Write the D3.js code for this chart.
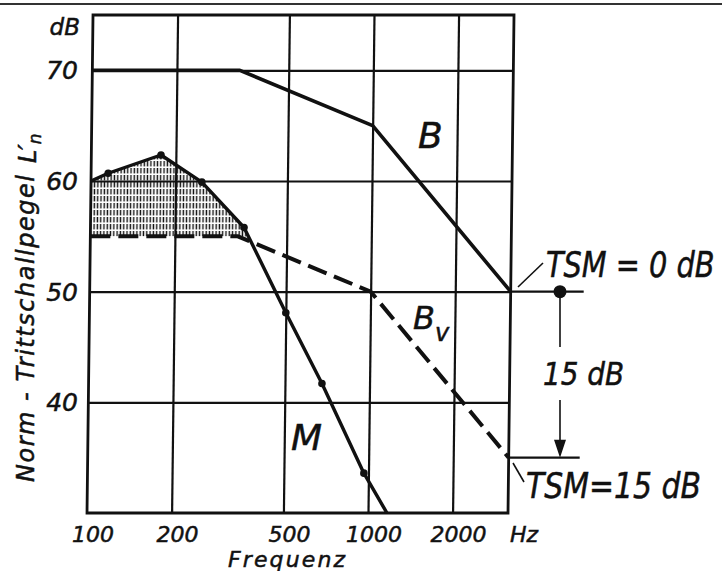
<!DOCTYPE html>
<html><head><meta charset="utf-8">
<script src="https://cdn.jsdelivr.net/npm/d3@7"></script>
<style>
html,body{margin:0;padding:0;background:#fff;}
svg{display:block;}
text{font-family:"DejaVu Sans",sans-serif;font-style:italic;fill:#111;stroke:#111;stroke-width:0.5;}
</style></head>
<body>
<svg id="chart" width="722" height="571"></svg>
<script>
// ---- data ----
const freqTicks = [100, 200, 500, 1000, 2000];
const freqTickLabels = ["100", "200", "500", "1000", "2000"];
const levelTicks = [40, 50, 60, 70];
const levelTickLabels = ["40", "50", "60", "70"];
const freqDomain = [100, 3150];
const levelDomain = [30, 75];
// reference curve B
const curveBFreq = [100, 335, 1000, 3150];
const curveBLevel = [70, 70, 65, 50];
// shifted reference curve Bv (B - 15 dB)
const curveBvFreq = [100, 335, 1000, 3150];
const curveBvLevel = [55, 55, 50, 35];
// measured curve M
const curveMFreq = [100, 115, 177, 248, 352, 500, 677, 963, 1168];
const curveMLevel = [60, 60.7, 62.35, 59.9, 55.8, 48.1, 41.7, 33.6, 30];
const curveMDots = [115, 177, 248, 352, 500, 677, 963];

const svg = d3.select("#chart");
const W = 722, H = 571;
const x = d3.scaleLog().domain(freqDomain).range([90, 511]);
const y = d3.scaleLinear().domain(levelDomain).range([513, 15]);
const ink = "#111";

const zip = (fs, ls) => fs.map((f, i) => ({f, L: ls[i]}));
const B = zip(curveBFreq, curveBLevel);
const Bv = zip(curveBvFreq, curveBvLevel);
const M = zip(curveMFreq, curveMLevel);
const line = d3.line().x(d => x(d.f)).y(d => y(d.L));

// top border line
svg.append("line").attr("x1", 0).attr("x2", W).attr("y1", 4).attr("y2", 4)
  .attr("stroke", "#333").attr("stroke-width", 2);

const defs = svg.append("defs");
const pat = defs.append("pattern").attr("id", "hatch").attr("patternUnits", "userSpaceOnUse")
  .attr("width", 3.3).attr("height", 7);
pat.append("line").attr("x1", 1.2).attr("x2", 1.2).attr("y1", 0).attr("y2", 5.5)
  .attr("stroke", ink).attr("stroke-width", 1.4);

// plot group slightly skewed like the scanned original
const cy = 265;
const g = svg.append("g")
  .attr("transform", `translate(0,${cy}) skewX(-0.69) translate(0,${-cy})`);

// clip: region above Bv
const clip = defs.append("clipPath").attr("id", "aboveBv");
clip.append("path").attr("d",
  d3.area().x(d => x(d.f)).y0(y(levelDomain[1])).y1(d => y(d.L))(Bv));

// hatched area: under M and above Bv
g.append("path")
  .attr("d", d3.area().x(d => x(d.f)).y0(y(levelDomain[0])).y1(d => y(d.L))(M))
  .attr("fill", "url(#hatch)").attr("clip-path", "url(#aboveBv)");

// grid
const xAxis = d3.axisBottom(x).tickValues(freqTicks.slice(1)).tickSize(-(y(levelDomain[0]) - y(levelDomain[1]))).tickFormat("");
const gx = g.append("g").attr("transform", `translate(0,${y(levelDomain[0])})`).call(xAxis);
const yAxis = d3.axisLeft(y).tickValues(levelTicks).tickSize(-(x(freqDomain[1]) - x(freqDomain[0]))).tickFormat("");
const gy = g.append("g").attr("transform", `translate(${x(freqDomain[0])},0)`).call(yAxis);
[gx, gy].forEach(a => {
  a.select(".domain").remove();
  a.selectAll(".tick line").attr("stroke", ink).attr("stroke-width", 2.2);
});

// frame
g.append("rect").attr("x", x(freqDomain[0])).attr("y", y(levelDomain[1]))
  .attr("width", x(freqDomain[1]) - x(freqDomain[0]))
  .attr("height", y(levelDomain[0]) - y(levelDomain[1]))
  .attr("fill", "none").attr("stroke", ink).attr("stroke-width", 2.8);

// extension lines to the right
g.append("line").attr("x1", x(freqDomain[1])).attr("x2", 584)
  .attr("y1", y(50)).attr("y2", y(50)).attr("stroke", ink).attr("stroke-width", 2.2);
g.append("line").attr("x1", x(freqDomain[1])).attr("x2", 582)
  .attr("y1", y(35)).attr("y2", y(35)).attr("stroke", ink).attr("stroke-width", 2.2);

// curves
g.append("path").attr("d", line(B)).attr("fill", "none").attr("stroke", ink)
  .attr("stroke-width", 3.6).attr("stroke-linejoin", "round");
g.append("path").attr("d", line(Bv)).attr("fill", "none").attr("stroke", ink)
  .attr("stroke-width", 4).attr("stroke-dasharray", "20,8");
g.append("path").attr("d", line(M)).attr("fill", "none").attr("stroke", ink)
  .attr("stroke-width", 3.4).attr("stroke-linejoin", "round");
g.selectAll("circle.m").data(M.filter(d => curveMDots.includes(d.f))).join("circle")
  .attr("class", "m").attr("cx", d => x(d.f)).attr("cy", d => y(d.L)).attr("r", 3.8).attr("fill", ink);

// axis labels
svg.append("text").attr("x", 80).attr("y", 35).attr("text-anchor", "end")
  .attr("font-size", 23).text("dB");
svg.selectAll("text.yt").data(levelTicks).join("text").attr("class", "yt")
  .attr("x", 78).attr("y", d => y(d)).attr("dy", "0.36em").attr("text-anchor", "end")
  .attr("font-size", 25).text((d, i) => levelTickLabels[i]);
svg.selectAll("text.xt").data(freqTicks).join("text").attr("class", "xt")
  .attr("x", d => x(d) + 3).attr("y", 542).attr("text-anchor", "middle")
  .attr("font-size", 22).text((d, i) => freqTickLabels[i]);
svg.append("text").attr("x", 510).attr("y", 542).attr("font-size", 22).text("Hz");
svg.append("text").attr("x", 228).attr("y", 567)
  .attr("font-size", 22).attr("textLength", 117).attr("lengthAdjust", "spacing").text("Frequenz");

svg.append("text").attr("transform", "translate(34,482) rotate(-90)")
  .attr("font-size", 24).attr("textLength", 307).attr("lengthAdjust", "spacing")
  .text("Norm - Trittschallpegel");
const ln = svg.append("text").attr("transform", "translate(36,163) rotate(-90)").attr("font-size", 24);
ln.append("tspan").text("L\u2032");
ln.append("tspan").attr("font-size", 17).attr("dy", 5).text("n");

// curve labels
svg.append("text").attr("x", 418).attr("y", 148).attr("font-size", 36).text("B");
svg.append("text").attr("x", 291).attr("y", 450).attr("font-size", 36).text("M");
const bv = svg.append("text").attr("x", 413).attr("y", 329).attr("font-size", 32);
bv.append("tspan").text("B");
bv.append("tspan").attr("font-size", 24).attr("dy", 12).text("v");

// TSM annotations (narrowed lettering via horizontal scale)
svg.append("line").attr("x1", 518).attr("y1", 287).attr("x2", 543).attr("y2", 263)
  .attr("stroke", ink).attr("stroke-width", 1.6);
svg.append("text").attr("transform", "translate(546,277) scale(0.8,1)")
  .attr("font-size", 36).text("TSM = 0 dB");
svg.append("line").attr("x1", 513).attr("y1", 463).attr("x2", 524).attr("y2", 482)
  .attr("stroke", ink).attr("stroke-width", 1.6);
svg.append("text").attr("transform", "translate(526,498) scale(0.83,1)")
  .attr("font-size", 36).text("TSM=15 dB");

svg.append("circle").attr("cx", 560).attr("cy", y(50)).attr("r", 6.5).attr("fill", ink);
svg.append("line").attr("x1", 560).attr("x2", 560).attr("y1", y(50)).attr("y2", 347)
  .attr("stroke", ink).attr("stroke-width", 1.6);
svg.append("line").attr("x1", 560).attr("x2", 560).attr("y1", 400).attr("y2", y(35) - 16)
  .attr("stroke", ink).attr("stroke-width", 1.6);
svg.append("path").attr("d", `M554,${y(35) - 18}L566,${y(35) - 18}L560,${y(35)}Z`).attr("fill", ink);
svg.append("text").attr("transform", "translate(543,385) scale(0.87,1)")
  .attr("font-size", 32).text("15 dB");
</script>
</body></html>
